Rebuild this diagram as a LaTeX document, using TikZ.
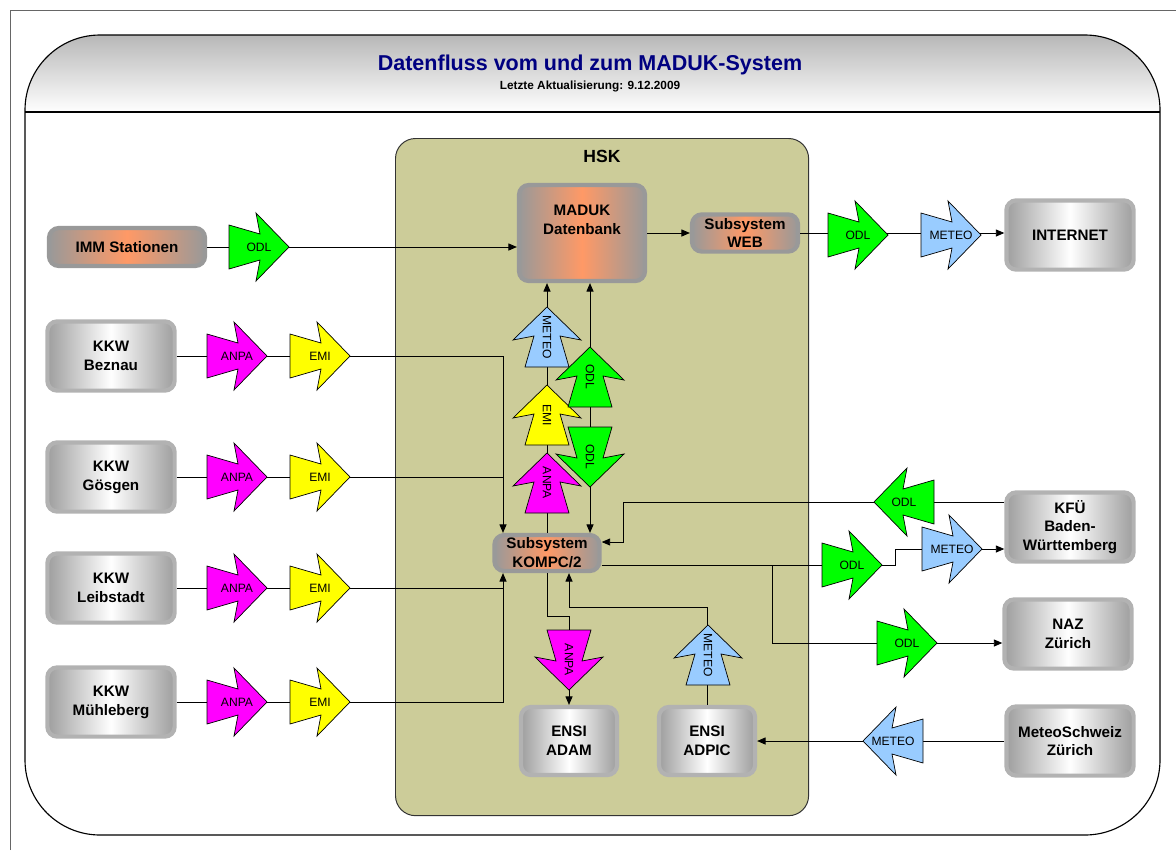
\documentclass[tikz,border=0pt]{standalone}
\usepackage{fontspec}
\setmainfont{Liberation Sans}
\usetikzlibrary{positioning,calc,arrows.meta}

\definecolor{hskolive}{RGB}{204,204,153}
\definecolor{odlgreen}{RGB}{0,255,0}
\definecolor{emiyellow}{RGB}{255,255,0}
\definecolor{anpamagenta}{RGB}{255,0,255}
\definecolor{meteoblue}{RGB}{153,204,255}
\definecolor{boxorange}{RGB}{255,153,102}
\definecolor{boxgrey}{RGB}{153,153,153}
\definecolor{titleblue}{RGB}{0,0,128}

\tikzset{
  boxtext/.style={font=\fontsize{10.8}{13.4}\selectfont\bfseries, align=center, inner sep=0pt},
  orangebox/.style={boxtext, draw=boxgrey, line width=3pt, rounded corners=7pt,
    left color=boxgrey, right color=boxgrey, middle color=boxorange},
  silverbox/.style={boxtext, draw=black!30, line width=3pt, rounded corners=7pt,
    left color=black!38, right color=black!38, middle color=white,
    minimum width=3.18cm, minimum height=1.73cm},
  flow/.style={line width=0.6pt},
  flowtip/.style={flow, -{Triangle[length=6pt,width=5pt]}},
  arrowlabel/.style={font=\fontsize{8.6}{10}\selectfont, inner sep=0pt},
  flowarrow/.pic={
    \draw[pic actions, line width=0.5pt] (-30,-22) -- (1,-13) -- (-3,-34) -- (30,0)
      -- (-3,34) -- (1,13) -- (-30,22) -- cycle;
    \node[arrowlabel] {#1};
  },
  pointup/.style={rotate=90, arrowlabel/.append style={rotate=-90}},
  pointdown/.style={rotate=-90, arrowlabel/.append style={rotate=-90}},
  pointleft/.style={rotate=180},
}

\begin{document}
\begin{tikzpicture}[x=0.025cm, y=-0.025cm]
  \useasboundingbox (0,0) rectangle (1176,850);
  \draw[black!60, line width=0.6pt] (10,850) -- (10,10) -- (1176,10);

  % frame and header
  \begin{scope}
    \clip[rounded corners=1.875cm] (25,35) rectangle (1160,835);
    \shade[top color=black!28, bottom color=white] (25,35) rectangle (1160,112);
  \end{scope}
  \draw[line width=0.8pt, rounded corners=1.875cm] (25,35) rectangle (1160,835);
  \draw[line width=0.8pt] (25,112) -- (1160,112);
  \node[font=\fontsize{15.3}{17}\selectfont\bfseries, text=titleblue] (title) at (590,65)
    {Datenfluss vom und zum MADUK-System};
  \node[font=\fontsize{8.4}{9}\selectfont\bfseries] (update) at (590,86)
    {Letzte Aktualisierung: 9.12.2009};

  % HSK
  \node[draw=black!80, line width=0.7pt, fill=hskolive, rounded corners=0.5cm,
    minimum width=10.325cm, minimum height=16.925cm, anchor=north west] (hsk) at (395,138) {};
  \node[boxtext, font=\fontsize{12.5}{14}\selectfont\bfseries] (hsklabel) at (602,156) {HSK};

  % systems
  \node[orangebox, minimum width=3.9cm, minimum height=0.95cm] (imm) at (127,247) {IMM Stationen};
  \node[orangebox, minimum width=3.15cm, minimum height=2.4cm] (maduk) at (582,233) {MADUK\\Datenbank\\[6pt]};
  \node[orangebox, minimum width=2.65cm, minimum height=0.93cm] (web) at (745,233) {Subsystem\\WEB};
  \node[orangebox, minimum width=2.63cm, minimum height=0.9cm] (kompc) at (547,553) {Subsystem\\KOMPC/2};

  \node[silverbox] (beznau) at (111,356) {KKW\\Beznau};
  \node[silverbox] (goesgen) at (111,477) {KKW\\Gösgen};
  \node[silverbox] (leibstadt) at (111,588) {KKW\\Leibstadt};
  \node[silverbox] (muehleberg) at (111,702) {KKW\\Mühleberg};
  \node[silverbox] (internet) at (1070,235) {INTERNET};
  \node[silverbox] (kfu) at (1070,527) {KFÜ\\Baden-\\Württemberg};
  \node[silverbox] (naz) at (1068,634) {NAZ\\Zürich};
  \node[silverbox] (meteoschweiz) at (1070,741) {MeteoSchweiz\\Zürich};
  \node[silverbox, minimum width=2.4cm, minimum height=1.7cm] (adam) at (569,741) {ENSI\\ADAM};
  \node[silverbox, minimum width=2.4cm, minimum height=1.7cm] (adpic) at (707,741) {ENSI\\ADPIC};

  % connectors
  \coordinate (colA) at (547,0);
  \coordinate (colB) at (590,0);
  \coordinate (feedcol) at (503,0);
  \coordinate (kfucol) at (623,0);
  \coordinate (stepx) at (895,0);
  \coordinate (nazcol) at (772,0);
  \coordinate (adamturn) at (569,616);
  \coordinate (adpicturn) at (569,607);
  \coordinate (kfuin) at ($(kompc.east)+(0,-11)$);
  \coordinate (kompcout) at ($(kompc.east)+(0,12)$);

  \draw[flowtip] (imm.east) -- (imm.east -| maduk.west);
  \draw[flowtip] (maduk.east |- web) -- (web.west);
  \draw[flowtip] (web.east) -- (web.east -| internet.west);
  \draw[flowtip] (kompc.north -| colA) -- (maduk.south -| colA);
  \draw[flow, {Triangle[length=6pt,width=5pt]}-{Triangle[length=6pt,width=5pt]}]
    (kompc.north -| colB) -- (maduk.south -| colB);
  \draw[flowtip] (beznau.east) -| (kompc.north -| feedcol);
  \draw[flow] (goesgen.east) -- (goesgen.east -| feedcol);
  \draw[flowtip] (muehleberg.east) -| (kompc.south -| feedcol);
  \draw[flow] (leibstadt.east) -- (leibstadt.east -| feedcol);
  \draw[flowtip] ($(kfu.west)+(0,-25)$) -| (kfucol |- kfuin) -- (kfuin);
  \draw[flowtip] (kompcout) -- (kompcout -| stepx) |- ($(kfu.west)+(0,22)$);
  \draw[flowtip] (kompcout -| nazcol) |- ($(naz.west)+(0,9)$);
  \draw[flowtip] (kompc.south -| colA) |- (adamturn) -- (adam.north -| adamturn);
  \draw[flowtip] (adpic.north) |- (adpicturn) -- (kompc.south -| adpicturn);
  \draw[flowtip] (meteoschweiz.west) -- (meteoschweiz.west -| adpic.east);

  % data arrows
  \pic[fill=odlgreen] at (259,247) {flowarrow=ODL};
  \foreach \y in {356,477,588,702} {
    \pic[fill=anpamagenta] at (237,\y) {flowarrow=ANPA};
    \pic[fill=emiyellow] at (320,\y) {flowarrow=EMI};
  }
  \pic[fill=odlgreen] at (858,235) {flowarrow=ODL};
  \pic[fill=meteoblue] at (951,235) {flowarrow=METEO};
  \pic[fill=odlgreen] at (852,565) {flowarrow=ODL};
  \pic[fill=meteoblue] at (952,549) {flowarrow=METEO};
  \pic[fill=odlgreen] at (907,643) {flowarrow=ODL};
  \pic[fill=odlgreen, pointleft] at (904,502) {flowarrow=ODL};
  \pic[fill=meteoblue, pointleft] at (893,741) {flowarrow=METEO};
  \pic[fill=meteoblue, pointup] at (547,337) {flowarrow=METEO};
  \pic[fill=emiyellow, pointup] at (547,415) {flowarrow=EMI};
  \pic[fill=anpamagenta, pointup] at (547,483) {flowarrow=ANPA};
  \pic[fill=odlgreen, pointup] at (590,377) {flowarrow=ODL};
  \pic[fill=odlgreen, pointdown] at (590,457) {flowarrow=ODL};
  \pic[fill=anpamagenta, pointdown] at (569,660) {flowarrow=ANPA};
  \pic[fill=meteoblue, pointup] at (708,655) {flowarrow=METEO};
\end{tikzpicture}
\end{document}
